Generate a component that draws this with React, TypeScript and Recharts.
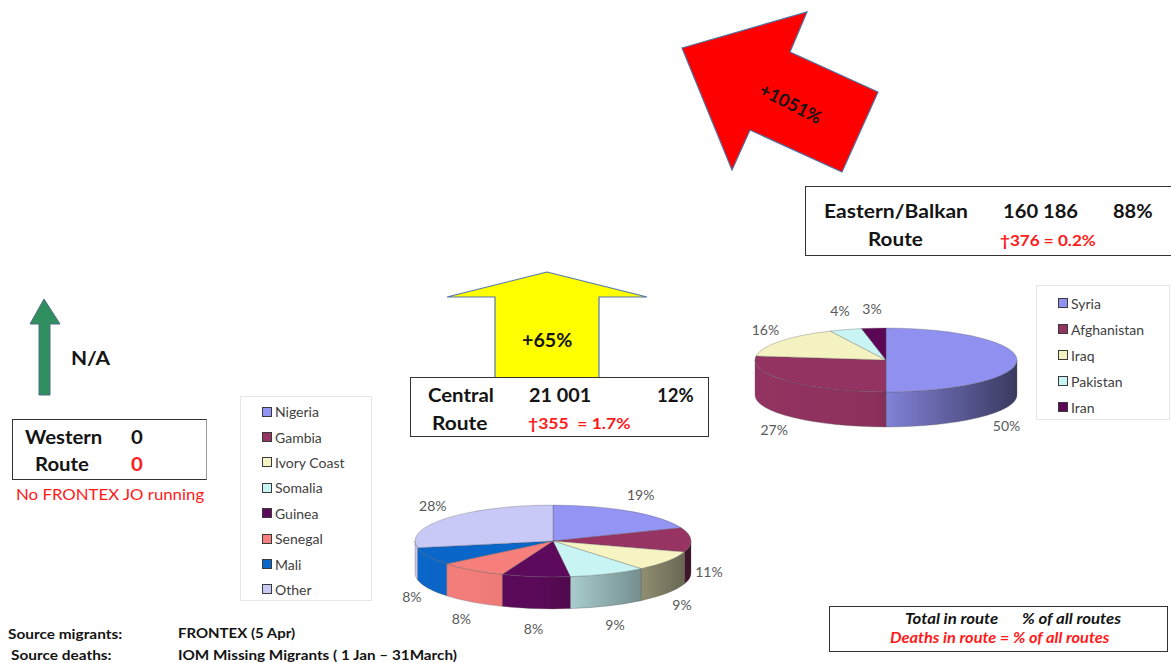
import React from 'react';
import { PieChart, Pie, Cell, Legend } from 'recharts';

// Central Mediterranean route, nationalities
const centralNames = ['Nigeria', 'Gambia', 'Ivory Coast', 'Somalia', 'Guinea', 'Senegal', 'Mali', 'Other'];
const centralShares = [19, 11, 9, 9, 8, 8, 8, 28];
const centralColors = ['#9494f5', '#973463', '#f7f4c4', '#c9f4f4', '#5e0a5c', '#f77f7c', '#0a66c8', '#c9c9f7'];

// Eastern Mediterranean / Balkan route, nationalities
const easternNames = ['Syria', 'Afghanistan', 'Iraq', 'Pakistan', 'Iran'];
const easternShares = [50, 27, 16, 4, 3];
const easternColors = ['#9090f0', '#933361', '#f5f2c2', '#c9f4f4', '#5c0656'];

// route boxes
const routeTitles = ['Western', 'Central', 'Eastern/Balkan'];
const routeTotals = ['0', '21 001', '160 186'];
const routeShares = ['', '12%', '88%'];
const routeDeaths = ['0', '\u2020355  = 1.7%', '\u2020376 = 0.2%'];
const routeChange = ['N/A', '+65%', '+1051%'];

const FONT = 'Lato, "Open Sans", sans-serif';

const toRows = (names: string[], values: number[]) =>
  names.map((name, i) => ({ name, value: values[i] }));

// draws one slice of a tilted pie with a side wall
const makeSlab = (tilt: number, depth: number, gid: string) => (props: any) => {
  const { cx, cy, outerRadius: rx, startAngle, endAngle, fill } = props;
  const ry = rx * tilt;
  const pt = (a: number, dy = 0) => {
    const r = (a * Math.PI) / 180;
    return `${cx + rx * Math.cos(r)},${cy - ry * Math.sin(r) + dy}`;
  };
  const hi = Math.max(startAngle, endAngle);
  const lo = Math.min(startAngle, endAngle);
  const sides: string[] = [];
  for (let k = -2; k <= 2; k++) {
    const a = Math.max(lo, -180 + 360 * k);
    const b = Math.min(hi, 360 * k);
    if (b - a > 0.01) {
      sides.push(
        `M${pt(b)} A${rx},${ry} 0 0 1 ${pt(a)} L${pt(a, depth)} A${rx},${ry} 0 0 0 ${pt(b, depth)} Z`
      );
    }
  }
  const large = hi - lo > 180 ? 1 : 0;
  const top = `M${cx},${cy} L${pt(hi)} A${rx},${ry} 0 ${large} 1 ${pt(lo)} Z`;
  return (
    <g>
      <defs>
        <linearGradient id={gid} gradientUnits="userSpaceOnUse" x1={cx - rx} y1={0} x2={cx + rx} y2={0}>
          <stop offset="0" stopColor="#000" stopOpacity={0} />
          <stop offset="0.45" stopColor="#000" stopOpacity={0.05} />
          <stop offset="1" stopColor="#000" stopOpacity={0.6} />
        </linearGradient>
      </defs>
      {sides.map((d, i) => (
        <g key={i}>
          <path d={d} fill={fill} />
          <path d={d} fill={`url(#${gid})`} stroke="#555" strokeOpacity={0.45} strokeWidth={0.7} />
        </g>
      ))}
      <path d={top} fill={fill} stroke="#555" strokeOpacity={0.45} strokeWidth={0.7} />
    </g>
  );
};

const makeLabel = (tilt: number, depth: number, maxX: number) => (props: any) => {
  const { cx, cy, midAngle, outerRadius: rx, percent } = props;
  let ang = midAngle;
  let x = 0;
  let y = 0;
  for (let n = 0; n < 60; n++) {
    const r = (ang * Math.PI) / 180;
    const s = Math.sin(r);
    x = cx + (rx + 18) * Math.cos(r);
    y = cy - (rx * tilt + 20) * s + (s < 0.05 ? depth : 0);
    if (x <= maxX) break;
    ang -= 2;
  }
  return (
    <text x={x} y={y} textAnchor="middle" dominantBaseline="central" fill="#595959" fontSize={14} fontFamily={FONT}>
      {`${Math.round(percent * 100)}%`}
    </text>
  );
};

const makeLegend = (names: string[], fontSize: number, rowH: number, padTop: number, padLeft: number) => ({ payload }: any) => {
  const items = [...(payload || [])].sort((a: any, b: any) => names.indexOf(a.value) - names.indexOf(b.value));
  return (
    <div style={{ paddingTop: padTop, paddingLeft: padLeft, fontFamily: FONT, fontSize, color: '#404040' }}>
      {items.map((p: any) => (
        <div key={p.value} style={{ display: 'flex', alignItems: 'center', height: rowH }}>
          <span style={{ width: 8, height: 8, background: p.color, border: '1px solid #3a3a3a', marginRight: 3 }} />
          <span>{p.value}</span>
        </div>
      ))}
    </div>
  );
};

type PieProps = {
  names: string[];
  values: number[];
  colors: string[];
  left: number;
  top: number;
  width: number;
  height: number;
  cx: number;
  cy: number;
  rx: number;
  tilt: number;
  depth: number;
  gid: string;
  box: { x: number; y: number; w: number; h: number };
  legendFont: number;
  rowH: number;
  padTop: number;
  padLeft: number;
  labelMaxX: number;
};

function Pie3D(p: PieProps) {
  const data = toRows(p.names, p.values);
  const slab = makeSlab(p.tilt, p.depth, p.gid);
  return (
    <div style={{ position: 'absolute', left: p.left, top: p.top }}>
      <PieChart width={p.width} height={p.height} margin={{ top: 0, right: 0, bottom: 0, left: 0 }}>
        <Pie
          data={data}
          dataKey="value"
          nameKey="name"
          cx={p.cx}
          cy={p.cy}
          outerRadius={p.rx}
          startAngle={90}
          endAngle={-270}
          isAnimationActive={false}
          shape={slab}
          activeShape={slab}
          inactiveShape={slab}
          label={makeLabel(p.tilt, p.depth, p.labelMaxX)}
          labelLine={false}
          stroke="none"
        >
          {data.map((d, i) => (
            <Cell key={d.name} fill={p.colors[i]} />
          ))}
        </Pie>
        <Legend
          layout="vertical"
          align="center"
          verticalAlign="middle"
          wrapperStyle={{
            left: p.box.x,
            top: p.box.y,
            width: p.box.w,
            height: p.box.h,
            border: '1px solid #e6e6e6',
            boxSizing: 'border-box',
          }}
          content={makeLegend(p.names, p.legendFont, p.rowH, p.padTop, p.padLeft)}
        />
      </PieChart>
    </div>
  );
}

const T = ({
  x,
  y,
  size = 18,
  color = '#141414',
  weight = 700,
  italic = false,
  sx = 1.13,
  children,
}: {
  x: number;
  y: number;
  size?: number;
  color?: string;
  weight?: number;
  italic?: boolean;
  sx?: number;
  children: React.ReactNode;
}) => (
  <div
    style={{
      position: 'absolute',
      left: x,
      top: y,
      fontSize: size,
      fontWeight: weight,
      fontStyle: italic ? 'italic' : 'normal',
      color,
      lineHeight: 1,
      transform: `translateY(-50%) scaleX(${sx})`,
      transformOrigin: 'left center',
      whiteSpace: 'pre',
      fontFamily: FONT,
    }}
  >
    {children}
  </div>
);

const Box = ({ x, y, w, h, right = '#333' }: { x: number; y: number; w: number; h: number; right?: string }) => (
  <div
    style={{
      position: 'absolute',
      left: x,
      top: y,
      width: w,
      height: h,
      boxSizing: 'border-box',
      border: '1.5px solid #333',
      borderRightColor: right,
      background: '#fff',
    }}
  />
);

export default function App() {
  return (
    <div
      style={{
        position: 'absolute',
        left: 0,
        top: 0,
        width: 1171,
        height: 663,
        background: '#fff',
        overflow: 'hidden',
        fontFamily: FONT,
      }}
    >
      <svg width={1171} height={663} style={{ position: 'absolute', left: 0, top: 0 }}>
        <polygon points="44,299 30,324 39,324 39,395 50,395 50,324 60,324" fill="#2f8f5e" stroke="#4d6b86" strokeWidth={1} />
        <polygon points="547,272 447,297 495,297 495,378 599,378 599,297 647,297" fill="#ffff00" stroke="#5577aa" strokeWidth={1.2} />
        <polygon points="682,48 807,12 790,52 878,92 842,172 750,130 732,170" fill="#ff0000" stroke="#4f6fa0" strokeWidth={1.2} />
      </svg>

      <Pie3D
        names={centralNames}
        values={centralShares}
        colors={centralColors}
        left={240}
        top={390}
        width={500}
        height={250}
        cx={313}
        cy={151}
        rx={138}
        tilt={0.26}
        depth={32}
        gid="gradCentral"
        box={{ x: 0, y: 6, w: 132, h: 205 }}
        legendFont={14}
        rowH={25.4}
        padTop={2}
        padLeft={21}
        labelMaxX={480}
      />
      <Pie3D
        names={easternNames}
        values={easternShares}
        colors={easternColors}
        left={740}
        top={280}
        width={431}
        height={180}
        cx={146}
        cy={80}
        rx={131}
        tilt={0.244}
        depth={35}
        gid="gradEastern"
        box={{ x: 296, y: 5, w: 134, h: 135 }}
        legendFont={14}
        rowH={26}
        padTop={4}
        padLeft={21}
        labelMaxX={268}
      />

      {/* change arrows */}
      <T x={71} y={357} size={19} sx={1.1}>{routeChange[0]}</T>
      <T x={522} y={340} size={18} sx={1.09}>{routeChange[1]}</T>
      <div
        style={{
          position: 'absolute',
          left: 791,
          top: 103,
          transform: 'translate(-50%, -50%) rotate(27deg)',
          fontSize: 18,
          fontWeight: 700,
          fontFamily: FONT,
          color: '#141414',
          whiteSpace: 'pre',
        }}
      >
        {routeChange[2]}
      </div>

      {/* Western */}
      <Box x={12} y={419} w={195} h={61} right="#999" />
      <T x={25} y={437}>{routeTitles[0]}</T>
      <T x={131} y={437}>{routeTotals[0]}</T>
      <T x={35} y={464}>Route</T>
      <T x={131} y={464} color="#ff1a1a">{routeDeaths[0]}</T>
      <T x={16} y={494} size={16} weight={400} sx={1.05} color="#ff1a1a">No FRONTEX JO running</T>

      {/* Central */}
      <Box x={410} y={377} w={299} h={60} />
      <T x={428} y={395}>{routeTitles[1]}</T>
      <T x={529} y={395} sx={1.1}>{routeTotals[1]}</T>
      <T x={657} y={395} sx={1.03}>{routeShares[1]}</T>
      <T x={432} y={422} size={19} sx={1.1}>Route</T>
      <T x={528} y={423} size={15} sx={1.17} color="#ff1a1a">{routeDeaths[1]}</T>

      {/* Eastern / Balkan */}
      <Box x={805} y={186} w={370} h={70} />
      <T x={824} y={211} sx={1.17}>{routeTitles[2]}</T>
      <T x={1003} y={211} sx={1.12}>{routeTotals[2]}</T>
      <T x={1113} y={211} sx={1.11}>{routeShares[2]}</T>
      <T x={868} y={239} sx={1.15}>Route</T>
      <T x={1000} y={240} size={15} sx={1.14} color="#ff1a1a">{routeDeaths[2]}</T>

      {/* key */}
      <Box x={829} y={606} w={339} h={46} />
      <T x={905} y={618} size={15} sx={1.12} italic>Total in route</T>
      <T x={1022} y={618} size={15} sx={1.12} italic>% of all routes</T>
      <T x={890} y={637} size={15} sx={1.09} italic color="#ff1a1a">Deaths in route = % of all routes</T>

      {/* sources */}
      <T x={8} y={634} size={14} sx={1.1}>Source migrants:</T>
      <T x={178} y={633} size={14} sx={1.07}>FRONTEX (5 Apr)</T>
      <T x={11} y={655} size={14} sx={1.1}>Source deaths:</T>
      <T x={178} y={655} size={14} sx={1.09}>IOM Missing Migrants ( 1 Jan – 31March)</T>
    </div>
  );
}
